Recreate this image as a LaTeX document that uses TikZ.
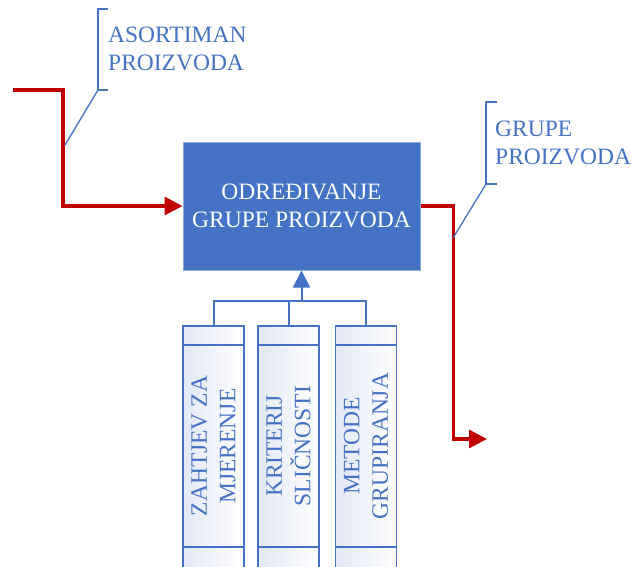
\documentclass[tikz,border=0pt]{standalone}
\usepackage{fontspec}
\setmainfont{Liberation Serif}
\usetikzlibrary{arrows.meta}
\definecolor{boxblue}{HTML}{4472C4}
\definecolor{flowred}{HTML}{C00000}
\definecolor{edgeblue}{HTML}{8FAADC}
\definecolor{tintblue}{HTML}{E2E8F5}
\tikzset{
  txt/.style={font=\fontsize{23.5}{28.5}\selectfont},
  mainbox/.style={txt,fill=boxblue,draw=edgeblue,line width=1pt,text=white,align=center,
    minimum width=237pt,minimum height=128pt,inner sep=0pt},
  book/.style={draw=boxblue,line width=1.8pt,left color=tintblue,right color=white,
    minimum width=61pt,minimum height=242pt,inner sep=0pt},
  booktext/.style={txt,rotate=90,text=boxblue,align=center},
  note/.style={txt,text=boxblue,align=left,anchor=north west,inner sep=0pt},
  callout/.style={boxblue,line width=1.3pt},
  link/.style={boxblue,line width=2pt},
  flow/.style={flowred,line width=3.2pt,-{Triangle[length=18pt,width=18pt]}}
}
\begin{document}
\begin{tikzpicture}[x=1pt,y=-1pt]
  \useasboundingbox (0,0) rectangle (631,566);
  \node[mainbox] (odr) at (301.5,206) {ODREĐIVANJE\\GRUPE PROIZVODA};
  \node[book] (zahtjev) at (213.5,447) {};
  \node[book] (kriterij) at (288.5,447) {};
  \node[book] (metode) at (366,447) {};
  \draw[link] ([yshift=-20pt]zahtjev.north west) -- ([yshift=-20pt]zahtjev.north east);
  \draw[link] ([yshift=-20pt]kriterij.north west) -- ([yshift=-20pt]kriterij.north east);
  \draw[link] ([yshift=-20pt]metode.north west) -- ([yshift=-20pt]metode.north east);
  \draw[link] ([yshift=22pt]zahtjev.south west) -- ([yshift=22pt]zahtjev.south east);
  \draw[link] ([yshift=22pt]kriterij.south west) -- ([yshift=22pt]kriterij.south east);
  \draw[link] ([yshift=22pt]metode.south west) -- ([yshift=22pt]metode.south east);
  \node[booktext] (zahtjevtxt) at (213.5,446) {ZAHTJEV ZA\\MJERENJE};
  \node[booktext] (kriterijtxt) at (288.5,446) {KRITERIJ\\SLIČNOSTI};
  \node[booktext] (metodetxt) at (366,446) {METODE\\GRUPIRANJA};
  \coordinate (joint) at (301.5,301);
  \draw[link] (zahtjev.north) |- (joint) -| (metode.north);
  \draw[link] (kriterij.north) -- (kriterij.north |- joint);
  \draw[link,-{Triangle[length=17pt,width=17pt]}] (joint) -- (odr.south);
  \coordinate (src) at (13,90);
  \coordinate (sink) at (487,439);
  \draw[flow] (src) -- ++(50,0) |- (odr.west);
  \draw[flow] (odr.east) -- ++(33,0) |- (sink);
  \node[note] (asort) at (108,26.5) {ASORTIMAN\\PROIZVODA};
  \draw[callout] (108,9) -- (98,9) -- (98,90) -- (108,90);
  \draw[callout] (98,90) -- (65,145);
  \node[note] (grupe) at (495,120.5) {GRUPE\\PROIZVODA};
  \draw[callout] (497,102) -- (486,102) -- (486,184) -- (497,184);
  \draw[callout] (486,184) -- (453,238);
\end{tikzpicture}
\end{document}
